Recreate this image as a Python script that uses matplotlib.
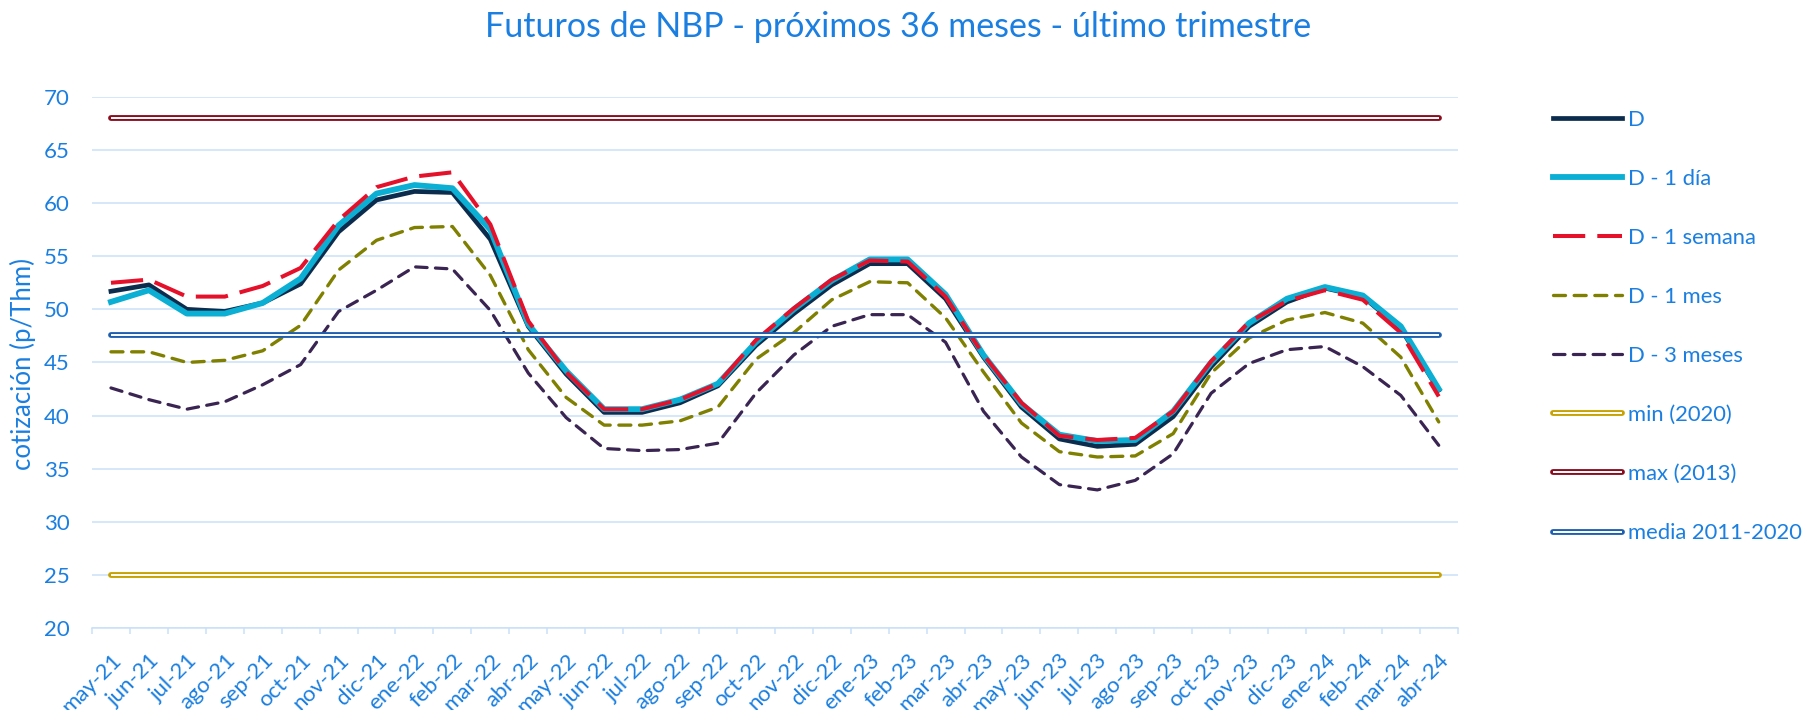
import matplotlib
matplotlib.use('Agg')
import matplotlib.pyplot as plt
import numpy as np

plt.rcParams['font.family'] = ['Lato', 'DejaVu Sans']

# ---------------- data ----------------
months = ['may-21', 'jun-21', 'jul-21', 'ago-21', 'sep-21', 'oct-21', 'nov-21', 'dic-21',
          'ene-22', 'feb-22', 'mar-22', 'abr-22', 'may-22', 'jun-22', 'jul-22', 'ago-22',
          'sep-22', 'oct-22', 'nov-22', 'dic-22', 'ene-23', 'feb-23', 'mar-23', 'abr-23',
          'may-23', 'jun-23', 'jul-23', 'ago-23', 'sep-23', 'oct-23', 'nov-23', 'dic-23',
          'ene-24', 'feb-24', 'mar-24', 'abr-24']

d_hoy = [51.7, 52.3, 50.0, 49.8, 50.6, 52.4, 57.3, 60.3, 61.1, 61.0, 56.6, 48.4,
         43.9, 40.3, 40.3, 41.2, 42.8, 46.6, 49.6, 52.3, 54.3, 54.3, 51.0, 45.5,
         40.8, 37.8, 37.1, 37.3, 39.9, 44.6, 48.4, 50.7, 52.0, 51.2, 48.2, 42.4]

d_1dia = [50.7, 51.8, 49.6, 49.6, 50.6, 52.9, 57.9, 60.9, 61.7, 61.4, 57.5, 48.6,
          44.2, 40.6, 40.6, 41.5, 43.0, 46.9, 50.0, 52.7, 54.7, 54.7, 51.4, 45.7,
          41.1, 38.2, 37.6, 37.7, 40.4, 45.0, 48.7, 51.0, 52.1, 51.3, 48.4, 42.5]

d_1semana = [52.5, 52.8, 51.2, 51.2, 52.2, 53.9, 58.4, 61.5, 62.5, 62.9, 58.0, 48.9,
             44.1, 40.6, 40.6, 41.5, 43.0, 47.1, 50.1, 52.8, 54.6, 54.5, 51.2, 45.7,
             41.2, 38.1, 37.7, 37.9, 40.4, 45.1, 48.8, 50.8, 51.8, 50.9, 47.8, 41.8]

d_1mes = [46.0, 46.0, 45.0, 45.2, 46.1, 48.5, 53.7, 56.5, 57.7, 57.8, 53.2, 46.2,
          41.7, 39.1, 39.1, 39.5, 40.8, 45.3, 47.8, 50.9, 52.6, 52.5, 49.2, 44.1,
          39.3, 36.6, 36.1, 36.2, 38.3, 44.0, 47.3, 49.0, 49.7, 48.7, 45.5, 39.4]

d_3meses = [42.6, 41.5, 40.6, 41.3, 42.9, 44.8, 49.8, 51.8, 54.0, 53.8, 49.9, 44.0,
            39.8, 36.9, 36.7, 36.8, 37.4, 42.1, 45.7, 48.4, 49.5, 49.5, 46.9, 40.4,
            36.1, 33.5, 33.0, 33.9, 36.4, 42.1, 44.9, 46.2, 46.5, 44.6, 41.9, 37.2]

min_2020 = 25.0
max_2013 = 68.0
media_2011_2020 = 47.6

title = 'Futuros de NBP - próximos 36 meses - último trimestre'
ylabel = 'cotización (p/Thm)'

# ---------------- style ----------------
TXT = '#1A7FE0'
GRID = '#C9E0F7'

fig = plt.figure(figsize=(18.02, 7.10), dpi=100)
ax = fig.add_axes([92 / 1802, 82 / 710, 1365.7 / 1802, 531.1 / 710])

x = np.arange(len(months))
n = len(months)

handles, labels = [], []

l, = ax.plot(x, d_hoy, color='#0C2C4E', lw=3.4, solid_joinstyle='round')
handles.append(l); labels.append('D')
l, = ax.plot(x, d_1dia, color='#0AAFD3', lw=4.2, solid_joinstyle='round')
handles.append(l); labels.append('D - 1 día')
l, = ax.plot(x, d_1semana, color='#E5102A', lw=2.9, linestyle=(0, (8, 3)),
             dash_capstyle='butt', dash_joinstyle='round')
handles.append(l); labels.append('D - 1 semana')
l, = ax.plot(x, d_1mes, color='#808000', lw=2.4, linestyle=(0, (3.6, 2.6)),
             dash_capstyle='round', dash_joinstyle='round')
handles.append(l); labels.append('D - 1 mes')
l, = ax.plot(x, d_3meses, color='#3A2452', lw=2.3, linestyle=(0, (3.6, 2.6)),
             dash_capstyle='round', dash_joinstyle='round')
handles.append(l); labels.append('D - 3 meses')

for val, col, lab in [(min_2020, '#C8A200', 'min (2020)'),
                      (max_2013, '#8B0C1E', 'max (2013)'),
                      (media_2011_2020, '#1F5FB0', 'media 2011-2020')]:
    lo, = ax.plot(x, [val] * n, color=col, lw=4.2, solid_capstyle='round')
    li, = ax.plot(x, [val] * n, color='white', lw=1.4, solid_capstyle='butt')
    handles.append((lo, li)); labels.append(lab)

ax.set_xlim(-0.5, n - 0.5)
ax.set_ylim(20, 70)
ax.set_yticks(np.arange(20, 71, 5))
ax.yaxis.grid(True, color=GRID, lw=1.1)
ax.set_axisbelow(True)
ax.tick_params(axis='y', length=0, pad=16, labelsize=16, labelcolor=TXT)

ax.set_xticks(x)
ax.set_xticklabels(months, rotation=45, ha='right', va='top', rotation_mode='anchor')
ax.tick_params(axis='x', which='major', length=0, pad=16, labelsize=16, labelcolor=TXT)
ax.set_xticks(np.arange(-0.5, n, 1), minor=True)
ax.tick_params(axis='x', which='minor', length=4.5, width=1.1, color=GRID, direction='out')

for s in ['top', 'right', 'left']:
    ax.spines[s].set_visible(False)
ax.spines['bottom'].set_color(GRID)
ax.spines['bottom'].set_linewidth(1.1)

fig.text(0.4985, 1 - 37 / 710, title, ha='center', va='baseline', fontsize=24.5, color=TXT)
fig.text(23 / 1802, (710 - 364) / 710, ylabel, rotation=90, ha='center', va='center',
         fontsize=18.5, color=TXT)

fig.legend(handles, labels, loc='upper left', bbox_to_anchor=(1552.5 / 1802, (710 - 109.8) / 710),
           frameon=False, fontsize=15.8, handlelength=3.15, handletextpad=0.3,
           labelspacing=1.78, borderpad=0, borderaxespad=0, labelcolor=TXT)

fig.savefig('out.png', dpi=100)
